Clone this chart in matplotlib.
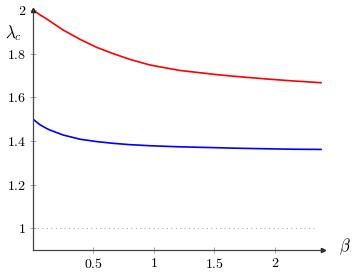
import matplotlib
matplotlib.use('Agg')
import matplotlib.pyplot as plt

plt.rcParams['mathtext.fontset'] = 'cm'
plt.rcParams['font.family'] = 'serif'
plt.rcParams['font.serif'] = ['cmr10', 'DejaVu Serif']

# values
beta = [0.0, 0.058, 0.113, 0.14, 0.25, 0.388, 0.526, 0.664, 0.80, 0.967,
        1.215, 1.518, 1.65, 1.93, 2.15, 2.38]
lam_red = [2.0, 1.978, 1.959, 1.949, 1.908, 1.866, 1.829, 1.800, 1.774, 1.748,
           1.723, 1.704, 1.697, 1.684, 1.675, 1.667]
lam_blue = [1.5, 1.474, 1.457, 1.450, 1.427, 1.408, 1.397, 1.389, 1.383, 1.378,
            1.373, 1.369, 1.367, 1.364, 1.362, 1.361]

xticks = [0.5, 1, 1.5, 2]
yticks = [1, 1.2, 1.4, 1.6, 1.8, 2]

fig = plt.figure(figsize=(3.57, 2.73), dpi=100)
ax = fig.add_axes([0.0924, 0.0842, 0.8135, 0.879])

ax.plot(beta, lam_red, color='red', lw=1.2)
ax.plot(beta, lam_blue, color='blue', lw=1.2)
ax.plot([0, 2.35], [1, 1], color='#b8a898', lw=0.8, ls=(0, (1, 3)))

ax.set_xlim(0, 2.4)
ax.set_ylim(0.9, 2.0)

for s in ['top', 'right']:
    ax.spines[s].set_visible(False)
for s in ['left', 'bottom']:
    ax.spines[s].set_color('#444444')
    ax.spines[s].set_linewidth(0.9)
ax.plot(1, 0, '>', color='#222222', ms=3, transform=ax.transAxes, clip_on=False)
ax.plot(0, 1, '^', color='#222222', ms=3, transform=ax.transAxes, clip_on=False)

ax.set_xticks(xticks)
ax.set_xticklabels(['$%g$' % t for t in xticks])
ax.set_yticks(yticks)
ax.set_yticklabels(['$%g$' % t for t in yticks])
ax.tick_params(direction='inout', length=4, width=0.6, color='#999999',
               labelsize=10, pad=3)

ax.text(-0.04, 0.905, r'$\lambda_c$', transform=ax.transAxes, fontsize=12,
        ha='right', va='center')
ax.text(1.075, 0.015, r'$\beta$', transform=ax.transAxes, fontsize=12,
        ha='center', va='center')

fig.savefig('out.png', dpi=100)
